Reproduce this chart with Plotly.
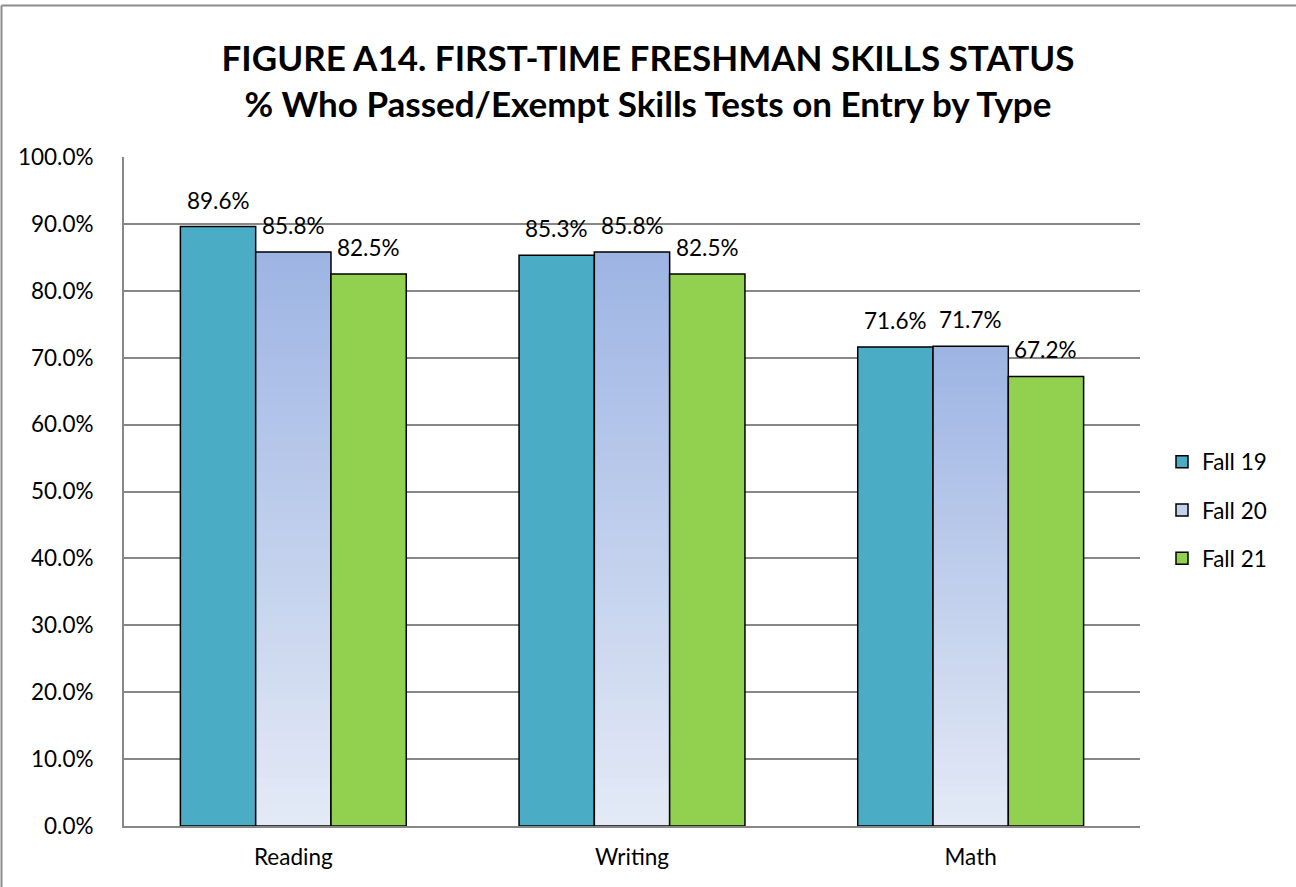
import plotly.graph_objects as go

categories = ["Reading", "Writing", "Math"]
series_names = ["Fall 19", "Fall 20", "Fall 21"]
fall19 = [89.6, 85.3, 71.6]
fall20 = [85.8, 85.8, 71.7]
fall21 = [82.5, 82.5, 67.2]
y_ticks = [0, 10, 20, 30, 40, 50, 60, 70, 80, 90, 100]

FONT = "Lato"
FS = 22.5
C19 = "#4BACC6"
C21 = "#92D050"
TOP20 = (157, 180, 227)
BOT20 = (228, 234, 246)
LINE = dict(color="black", width=1.5)
GRID = "#878787"

fig = go.Figure()

fig.add_trace(go.Bar(x=categories, y=fall19, name=series_names[0], offsetgroup="a",
                     marker=dict(color=C19, line=LINE), legendgroup="a"))

# Fall 20: vertical gradient built from thin overlapping slices of each bar
N = 60
for k in range(N):
    t = (k + 0.5) / N
    col = "rgb(%d,%d,%d)" % tuple(round(BOT20[i] + (TOP20[i] - BOT20[i]) * t) for i in range(3))
    bases = [v * k / N for v in fall20]
    heights = [min(v / N * 2.0, v - b) for v, b in zip(fall20, bases)]
    fig.add_trace(go.Bar(x=categories, y=heights, base=bases, offsetgroup="b",
                         marker=dict(color=col, line=dict(width=0)),
                         showlegend=False, hoverinfo="skip"))
fig.add_trace(go.Bar(x=categories, y=fall20, offsetgroup="b", showlegend=False,
                     marker=dict(color="rgba(0,0,0,0)", line=LINE)))
fig.add_trace(go.Bar(x=categories, y=[None] * 3, name=series_names[1], offsetgroup="b",
                     marker=dict(color="#C3D1EE", line=LINE), legendgroup="b"))

fig.add_trace(go.Bar(x=categories, y=fall21, name=series_names[2], offsetgroup="c",
                     marker=dict(color=C21, line=LINE), legendgroup="c"))

# data labels
bargap = 0.333
w = (1 - bargap) / 3
for j, vals in enumerate([fall19, fall20, fall21]):
    for i, v in enumerate(vals):
        fig.add_annotation(x=i + (j - 1) * w, y=v, xref="x", yref="y",
                           text=f"{v:.1f}%", showarrow=False, yanchor="bottom",
                           yshift=11, font=dict(family=FONT, size=FS, color="black"))

# outer chart border (top and left edges visible in the frame)
bx = -122.5 / 1016
by = (826 - 5.5) / 669
fig.add_shape(type="line", xref="paper", yref="paper", x0=bx, x1=1.3, y0=by, y1=by,
              line=dict(color="#8C8C8C", width=2), layer="below")
fig.add_shape(type="line", xref="paper", yref="paper", x0=bx, x1=bx, y0=-0.2, y1=by,
              line=dict(color="#8C8C8C", width=2), layer="below")

fig.update_layout(
    width=1296, height=887,
    margin=dict(l=124, r=156, t=157, b=61),
    paper_bgcolor="white", plot_bgcolor="white",
    barmode="group", bargap=bargap, bargroupgap=0,
    font=dict(family=FONT, size=FS, color="black"),
    title=dict(text="<b>FIGURE A14. FIRST-TIME FRESHMAN SKILLS STATUS<br>% Who Passed/Exempt Skills Tests on Entry by Type</b>",
               x=0.5, xanchor="center", y=1 - 71 / 887, yanchor="middle",
               font=dict(family=FONT, size=35, color="black")),
    legend=dict(x=(1162 - 124) / 1016, xanchor="left", y=(826 - 510) / 669, yanchor="middle",
                traceorder="grouped", tracegroupgap=16,
                font=dict(family=FONT, size=FS)),
    xaxis=dict(showline=True, linecolor=GRID, linewidth=2, ticks="",
               ticklabelstandoff=10, tickfont=dict(family=FONT, size=FS)),
    yaxis=dict(range=[0, 100], tickvals=y_ticks, ticktext=[f"{t:.1f}%" for t in y_ticks],
               showgrid=True, gridcolor=GRID, gridwidth=2, showline=True,
               linecolor=GRID, linewidth=2, ticks="", zeroline=False,
               ticklabelstandoff=24, tickfont=dict(family=FONT, size=FS)),
    showlegend=True,
)

fig.write_html("out.html", config={"displayModeBar": False},
               post_script="document.body.style.margin='0';document.body.style.padding='0';")
